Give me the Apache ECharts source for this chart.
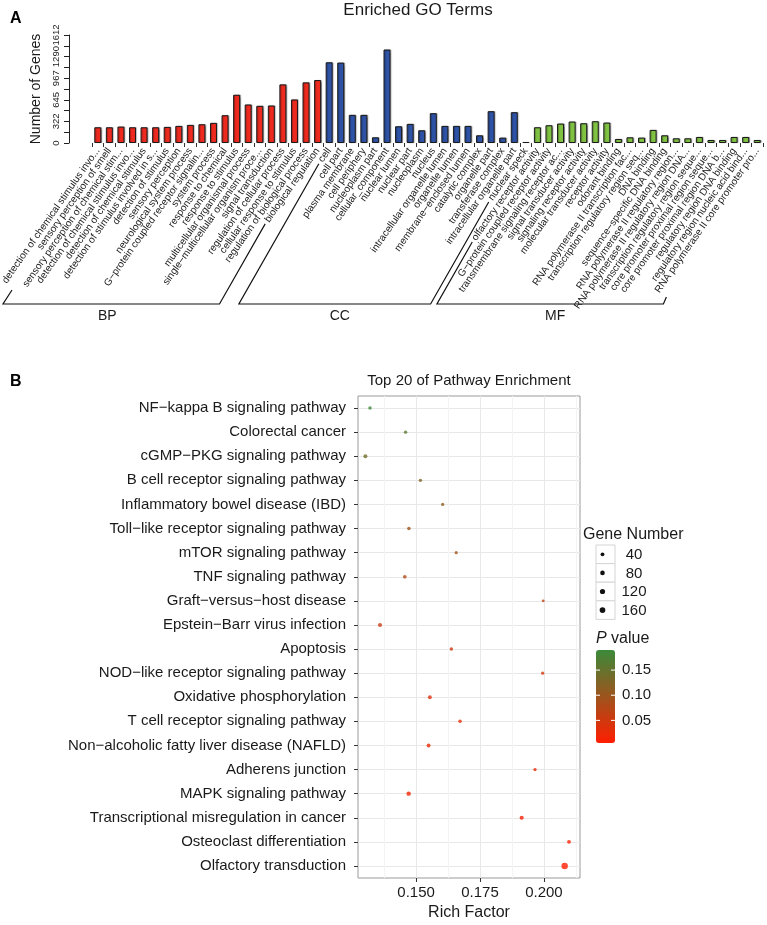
<!DOCTYPE html>
<html>
<head>
<meta charset="utf-8">
<script src="https://cdn.jsdelivr.net/npm/echarts@6/dist/echarts.min.js"></script>
<style>
  html, body { margin: 0; padding: 0; background: #fff; }
  #main { width: 767px; height: 925px; }
</style>
</head>
<body>
<div id="main"></div>
<script>
// ---- panel A : GO terms ----
var bpTerms = ['detection of chemical stimulus invo...', 'sensory perception of smell', 'sensory perception of chemical stim...',
  'detection of chemical stimulus invo...', 'detection of chemical stimulus', 'detection of stimulus involved in s...',
  'detection of stimulus', 'sensory perception', 'neurological system process', 'G\u2212protein coupled receptor signalin...',
  'system process', 'response to chemical', 'response to stimulus', 'multicellular organismal process',
  'single\u2212multicellular organism proce...', 'signal transduction', 'regulation of cellular process',
  'cellular response to stimulus', 'regulation of biological process', 'biological regulation'];
var bpCounts = [235, 235, 245, 235, 235, 235, 240, 255, 270, 280, 300, 415, 720, 575, 555, 560, 875, 650, 905, 940];

var ccTerms = ['cell', 'cell part', 'plasma membrane', 'cell periphery', 'nucleoplasm part', 'cellular_component',
  'nuclear lumen', 'nuclear part', 'nucleoplasm', 'nucleus', 'intracellular organelle lumen', 'organelle lumen',
  'membrane\u2212enclosed lumen', 'catalytic complex', 'organelle part', 'transferase complex',
  'intracellular organelle part', 'nuclear speck'];
var ccCounts = [1205, 1200, 420, 420, 85, 1395, 250, 285, 190, 445, 255, 255, 255, 115, 475, 80, 460, 15];

var mfTerms = ['olfactory receptor activity', 'G\u2212protein coupled receptor activity', 'transmembrane signaling receptor ac...',
  'signal transducer activity', 'signaling receptor activity', 'molecular transducer activity', 'receptor activity',
  'odorant binding', 'RNA polymerase II transcription fac...', 'transcription regulatory region seq...', 'DNA binding',
  'sequence\u2212specific DNA binding', 'RNA polymerase II regulatory region...', 'RNA polymerase II regulatory region DNA...',
  'transcription regulatory region seque...', 'core promoter proximal region seque...', 'core promoter proximal region DNA b...',
  'regulatory region DNA binding', 'regulatory region nucleic acid bind...', 'RNA polymerase II core promoter pro...'];
var mfCounts = [235, 265, 290, 320, 295, 325, 305, 60, 85, 80, 195, 115, 70, 70, 90, 45, 45, 90, 90, 45];

var groupNames = ['BP', 'CC', 'MF'];
var groupColors = ['#ee2a1f', '#2d52a6', '#80c342'];
var geneAxisMax = 1612;
var geneAxisStep = 322.4;

// ---- panel B : KEGG pathways ----
var pathways = ['NF\u2212kappa B signaling pathway', 'Colorectal cancer', 'cGMP\u2212PKG signaling pathway',
  'B cell receptor signaling pathway', 'Inflammatory bowel disease (IBD)', 'Toll\u2212like receptor signaling pathway',
  'mTOR signaling pathway', 'TNF signaling pathway', 'Graft\u2212versus\u2212host disease', 'Epstein\u2212Barr virus infection',
  'Apoptosis', 'NOD\u2212like receptor signaling pathway', 'Oxidative phosphorylation', 'T cell receptor signaling pathway',
  'Non\u2212alcoholic fatty liver disease (NAFLD)', 'Adherens junction', 'MAPK signaling pathway',
  'Transcriptional misregulation in cancer', 'Osteoclast differentiation', 'Olfactory transduction'];
var richFactor = [0.1320, 0.1459, 0.1302, 0.1517, 0.1604, 0.1472, 0.1657, 0.1456, 0.1997, 0.1359,
  0.1638, 0.1995, 0.1554, 0.1672, 0.1549, 0.1965, 0.1471, 0.1913, 0.2098, 0.2081];
var geneNumber = [28, 26, 50, 24, 22, 32, 20, 36, 12, 55, 28, 20, 42, 30, 45, 22, 70, 58, 42, 230];
var pValue = [0.185, 0.16, 0.14, 0.125, 0.11, 0.10, 0.09, 0.08, 0.065, 0.06,
  0.05, 0.045, 0.035, 0.03, 0.025, 0.02, 0.015, 0.012, 0.008, 0.002];
var richTicks = [0.150, 0.175, 0.200];
var richMinorTicks = [0.1375, 0.1625, 0.1875, 0.2125];
var sizeLegend = [40, 80, 120, 160];
var pTicks = [0.05, 0.10, 0.15];
var pMin = 0.005, pMax = 0.19;

var FONT = '"Liberation Sans", Arial, sans-serif';
var chart = echarts.init(document.getElementById('main'), null, { renderer: 'canvas' });

var goTerms = bpTerms.concat(ccTerms, mfTerms);
var goCounts = bpCounts.concat(ccCounts, mfCounts);
var goGroup = bpTerms.map(function () { return 0; })
  .concat(ccTerms.map(function () { return 1; }), mfTerms.map(function () { return 2; }));

function dotSize(n) {
  return 0.3 * Math.sqrt(n) + 1.9;
}

var option = {
  backgroundColor: '#fff',
  animation: false,
  textStyle: { fontFamily: FONT },
  title: [
    { text: 'Enriched GO Terms', left: 418, top: 2, textAlign: 'center', padding: 0,
      textStyle: { fontSize: 17, fontWeight: 'normal', color: '#1a1a1a', fontFamily: FONT } },
    { text: 'Top 20 of Pathway Enrichment', left: 469, top: 373, textAlign: 'center', padding: 0,
      textStyle: { fontSize: 15, fontWeight: 'normal', color: '#1a1a1a', fontFamily: FONT } }
  ],
  grid: [
    { left: 92, right: 4, top: 35, height: 108, outerBoundsMode: 'none' },
    { left: 358, right: 187, top: 396, bottom: 47, show: true, backgroundColor: '#fff',
      borderColor: '#9a9a9a', borderWidth: 1, outerBoundsMode: 'none' }
  ],
  xAxis: [
    {
      gridIndex: 0, type: 'category', data: goTerms,
      axisLine: { show: false },
      axisTick: { show: true, length: 4, lineStyle: { color: '#333' } },
      axisLabel: { interval: 0, rotate: 55, fontSize: 10, color: '#1a1a1a', margin: 6, fontFamily: FONT },
      splitLine: { show: false }
    },
    {
      gridIndex: 1, type: 'value', min: 0.1273, max: 0.2141,
      name: 'Rich Factor', nameLocation: 'middle', nameGap: 27,
      nameTextStyle: { fontSize: 16, color: '#1a1a1a', fontFamily: FONT },
      axisLine: { show: false },
      axisTick: { show: true, length: 4, customValues: richTicks, lineStyle: { color: '#333' } },
      axisLabel: { customValues: richTicks, fontSize: 15, color: '#1a1a1a', margin: 7, fontFamily: FONT,
        formatter: function (v) { return v.toFixed(3); } },
      splitLine: { show: true, lineStyle: { color: '#e8e8e8', width: 1 } }
    },
    {
      gridIndex: 1, type: 'value', min: 0.1273, max: 0.2141,
      axisLine: { show: false },
      axisTick: { show: false, customValues: richMinorTicks },
      axisLabel: { show: false, customValues: richMinorTicks },
      splitLine: { show: true, lineStyle: { color: '#f4f4f4', width: 1 } }
    }
  ],
  yAxis: [
    {
      gridIndex: 0, type: 'value', min: 0, max: geneAxisMax, interval: geneAxisStep, offset: 23,
      name: 'Number of Genes', nameLocation: 'middle', nameGap: 24, nameRotate: 90,
      nameTextStyle: { fontSize: 14, color: '#1a1a1a', fontFamily: FONT },
      axisLine: { show: true, lineStyle: { color: '#222', width: 1 } },
      axisTick: { show: true, length: 5, lineStyle: { color: '#222' } },
      minorTick: { show: true, splitNumber: 2, length: 5, lineStyle: { color: '#222' } },
      axisLabel: { rotate: 90, fontSize: 9.5, color: '#1a1a1a', margin: 8, fontFamily: FONT,
        hideOverlap: false,
        formatter: function (v) { return String(Math.round(v)); } },
      splitLine: { show: false }
    },
    {
      gridIndex: 1, type: 'category', data: pathways, inverse: true,
      axisLine: { show: false },
      axisTick: { show: true, length: 4, alignWithLabel: true, lineStyle: { color: '#333' } },
      axisLabel: { fontSize: 15, color: '#1a1a1a', margin: 12, fontFamily: FONT },
      splitLine: { show: true, alignWithLabel: true, lineStyle: { color: '#e8e8e8', width: 1 } }
    }
  ],
  visualMap: {
    type: 'continuous', seriesIndex: 1, dimension: 3,
    min: pMin, max: pMax, calculable: false, hoverLink: false,
    left: 596, top: 650, padding: 0, itemWidth: 19, itemHeight: 93,
    text: null, showLabel: false,
    inRange: { color: ['#ff1e00', '#3b8a3a'] }
  },
  series: [
    {
      type: 'bar', xAxisIndex: 0, yAxisIndex: 0, barWidth: 7,
      data: goCounts.map(function (v, i) {
        return { value: v, itemStyle: { color: groupColors[goGroup[i]] } };
      }),
      itemStyle: { borderColor: '#1a1a1a', borderWidth: 1,
        shadowColor: 'rgba(0,0,0,0.3)', shadowOffsetX: 1, shadowOffsetY: 0, shadowBlur: 1 }
    },
    {
      type: 'scatter', xAxisIndex: 1, yAxisIndex: 1, symbol: 'circle',
      data: pathways.map(function (p, i) { return [richFactor[i], p, geneNumber[i], pValue[i]]; }),
      encode: { x: 0, y: 1 },
      symbolSize: function (d) { return dotSize(d[2]); },
      z: 5
    }
  ]
};

chart.setOption(option);

// ---- annotations: group brackets, legends, panel letters ----
var ctx = document.createElement('canvas').getContext('2d');
ctx.font = '10px ' + FONT;
var rot = 55 * Math.PI / 180;
var axisY = chart.convertToPixel({ yAxisIndex: 0 }, 0);
var labelY = axisY + 6;
var bracketY = 304;

function labelStart(i) {
  var x = chart.convertToPixel({ xAxisIndex: 0 }, i);
  var w = ctx.measureText(goTerms[i]).width + 3;
  return [x - w * Math.cos(rot), labelY + w * Math.sin(rot)];
}

var graphics = [];
var first = 0;
[bpTerms.length, ccTerms.length, mfTerms.length].forEach(function (n, g) {
  var a = labelStart(first), b = labelStart(first + n - 1);
  var xl = Math.max(3, a[0] - (bracketY - a[1]) * 0.57);
  var xr = b[0] - (bracketY - b[1]) * 0.57;
  if (g === 0) { a = [xl + 9, bracketY - 14]; }
  if (g === 2) { xr = b[0] + 8; b = [xr + 3, bracketY - 7]; }
  graphics.push({
    type: 'polyline', silent: true,
    shape: { points: [a, [xl, bracketY], [xr, bracketY], b] },
    style: { stroke: '#111', lineWidth: 1.2, fill: null }
  });
  graphics.push({
    type: 'text', x: (xl + xr) / 2 + (g === 0 ? -4 : 5), y: bracketY + 12,
    style: { text: groupNames[g], fontSize: 14, fontFamily: FONT, fill: '#1a1a1a', align: 'center', verticalAlign: 'middle' }
  });
  first += n;
});

graphics.push({ type: 'text', x: 10, y: 19,
  style: { text: 'A', fontSize: 16, fontWeight: 'bold', fontFamily: FONT, fill: '#000', verticalAlign: 'middle' } });
graphics.push({ type: 'text', x: 10, y: 382,
  style: { text: 'B', fontSize: 16, fontWeight: 'bold', fontFamily: FONT, fill: '#000', verticalAlign: 'middle' } });

// size legend
graphics.push({ type: 'text', x: 583, y: 535,
  style: { text: 'Gene Number', fontSize: 16, fontFamily: FONT, fill: '#1a1a1a', verticalAlign: 'middle' } });
sizeLegend.forEach(function (v, i) {
  var top = 545 + i * 18.6;
  graphics.push({ type: 'rect', shape: { x: 596, y: top, width: 19, height: 18.6 },
    style: { fill: '#fff', stroke: '#d4d4d4', lineWidth: 1 } });
  graphics.push({ type: 'circle', shape: { cx: 602.5, cy: top + 9.3, r: dotSize(v) / 2 },
    style: { fill: '#111' } });
  graphics.push({ type: 'text', x: 634, y: top + 9.8,
    style: { text: String(v), fontSize: 15, fontFamily: FONT, fill: '#1a1a1a', align: 'center', verticalAlign: 'middle' } });
});

// colour bar title + ticks
graphics.push({ type: 'text', x: 596, y: 639,
  style: { text: '{i|P} value', fontSize: 16, fontFamily: FONT, fill: '#1a1a1a', verticalAlign: 'middle',
    rich: { i: { fontStyle: 'italic', fontSize: 16, fontFamily: FONT, fill: '#1a1a1a' } } } });
pTicks.forEach(function (p) {
  var y = 650 + (pMax - p) / (pMax - pMin) * 93;
  graphics.push({ type: 'line', shape: { x1: 596, y1: y, x2: 600, y2: y }, style: { stroke: '#fff', lineWidth: 1 }, z: 100 });
  graphics.push({ type: 'line', shape: { x1: 611, y1: y, x2: 615, y2: y }, style: { stroke: '#fff', lineWidth: 1 }, z: 100 });
  graphics.push({ type: 'text', x: 622, y: y,
    style: { text: p.toFixed(2), fontSize: 15, fontFamily: FONT, fill: '#1a1a1a', verticalAlign: 'middle' } });
});

chart.setOption({ graphic: graphics });
window.addEventListener('resize', chart.resize);
</script>
</body>
</html>
